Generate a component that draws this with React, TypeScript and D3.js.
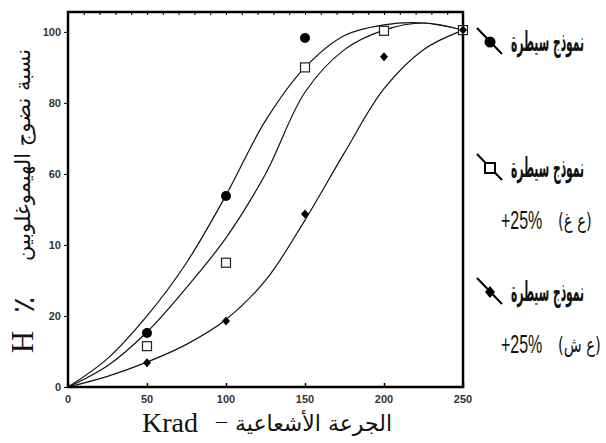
import React, { useEffect, useRef } from 'react';
import * as d3 from 'd3';

// measured points (dose in Krad, % maturation)
const doses = [50, 100, 150, 200, 250];
const controlPts = [15.2, 53.8, 98.3, null, 100.5];
const squarePts = [11.5, 35, 90, 100.3, 100.5];
const diamondPts = [6.8, 18.6, 48.7, 93, 100.5];

// fitted curves
const curveX = [0, 25, 50, 75, 100, 125, 150, 175, 200, 225, 250];
const curveControl = [0, 8, 20, 35, 54, 75, 90, 99, 102, 102.5, 100.5];
const curveSquare = [0, 6, 15.5, 28, 42, 60, 83, 95, 100.5, 102.5, 100.5];
const curveDiamond = [0, 3, 7, 12, 19, 30, 47, 66, 84, 95, 100.5];

const xTicks = [0, 50, 100, 150, 200, 250];
const yTicks = [0, 20, 40, 60, 80, 100];
const yTickLabels = ['0', '20', '10', '60', '80', '100'];

const legendName = 'نموذج سيطرة';
const legendPct = ['', '+25%', '+25%'];
const legendAbbr = ['', '(ع غ)', '(ع ش)'];
const yTitle = 'نسبة نضوج الهيموغلوبين';
const xTitle = 'الجرعة الأشعاعية';

const App = () => {
  const svgRef = useRef<SVGSVGElement>(null);

  useEffect(() => {
    const svg = d3.select(svgRef.current);
    svg.selectAll('*').remove();

    const x = d3.scaleLinear().domain([0, 250]).range([68, 463]);
    const y = d3.scaleLinear().domain([0, 105.6]).range([387, 12]);

    // curves
    const line = d3.line<number>()
      .x((d, i) => x(curveX[i]))
      .y(d => y(d))
      .curve(d3.curveCatmullRom.alpha(0.5));

    [curveControl, curveSquare, curveDiamond].forEach(c => {
      svg.append('path')
        .attr('d', line(c))
        .attr('fill', 'none')
        .attr('stroke', '#111')
        .attr('stroke-width', 1.2);
    });

    // frame
    svg.append('rect')
      .attr('x', x(0)).attr('y', y(105.6))
      .attr('width', x(250) - x(0)).attr('height', y(0) - y(105.6))
      .attr('fill', 'none').attr('stroke', '#000').attr('stroke-width', 2.5);

    // top minor ticks
    svg.append('g')
      .attr('transform', `translate(0,${y(105.6)})`)
      .call(d3.axisBottom(x).tickValues(d3.range(0, 251, 10)).tickSize(3).tickFormat(() => ''))
      .call(g => g.select('.domain').remove());

    // bottom axis
    const xa = svg.append('g')
      .attr('transform', `translate(0,${y(0)})`)
      .call(d3.axisTop(x).tickValues(xTicks).tickSize(4).tickFormat(() => ''));
    xa.select('.domain').remove();
    xa.selectAll('line').attr('stroke-width', 1.5);

    svg.append('g').selectAll('text')
      .data(xTicks)
      .join('text')
      .attr('x', d => x(d))
      .attr('y', y(0) + 16)
      .attr('text-anchor', 'middle')
      .attr('font-family', 'Liberation Sans, Arial, sans-serif')
      .attr('font-size', 11)
      .attr('font-weight', 'bold')
      .attr('fill', '#333')
      .text(d => d);

    // left axis
    const ya = svg.append('g')
      .attr('transform', `translate(${x(0)},0)`)
      .call(d3.axisLeft(y).tickValues(yTicks).tickSize(4).tickFormat(() => ''));
    ya.select('.domain').remove();

    svg.append('g').selectAll('text')
      .data(yTicks)
      .join('text')
      .attr('x', x(0) - 7)
      .attr('y', d => y(d) + 4)
      .attr('text-anchor', 'end')
      .attr('font-family', 'Liberation Sans, Arial, sans-serif')
      .attr('font-size', 11)
      .attr('font-weight', 'bold')
      .attr('fill', '#333')
      .text((d, i) => yTickLabels[i]);

    // markers
    const diamond = (cx: number, cy: number, w: number, h: number) =>
      `M${cx},${cy - h}L${cx + w},${cy}L${cx},${cy + h}L${cx - w},${cy}Z`;

    doses.forEach((dv, i) => {
      if (controlPts[i] != null) {
        svg.append('circle')
          .attr('cx', x(dv)).attr('cy', y(controlPts[i] as number))
          .attr('r', 5).attr('fill', '#000');
      }
      svg.append('rect')
        .attr('x', x(dv) - 4.5).attr('y', y(squarePts[i]) - 4.5)
        .attr('width', 9).attr('height', 9)
        .attr('fill', '#fff').attr('stroke', '#222').attr('stroke-width', 1.2);
      svg.append('path')
        .attr('d', diamond(x(dv), y(diamondPts[i]), 4, 4.5))
        .attr('fill', '#000');
    });

    // legend
    const legY = [42, 168, 292];
    legY.forEach((ly, i) => {
      const g = svg.append('g').attr('transform', `translate(490,${ly})`);
      g.append('line')
        .attr('x1', -13).attr('y1', -14).attr('x2', 12).attr('y2', 12)
        .attr('stroke', '#000').attr('stroke-width', 2);
      if (i === 0) g.append('circle').attr('r', 5.5).attr('fill', '#000');
      if (i === 1) g.append('rect').attr('x', -5).attr('y', -5).attr('width', 10).attr('height', 10)
        .attr('fill', '#fff').attr('stroke', '#000').attr('stroke-width', 2);
      if (i === 2) g.append('path').attr('d', diamond(0, 0, 5, 6)).attr('fill', '#000');

      svg.append('text')
        .attr('transform', `translate(511,${ly + 9}) scale(0.44,1)`)
        .attr('font-family', 'DejaVu Sans Condensed, DejaVu Sans, sans-serif')
        .attr('font-weight', 'bold')
        .attr('font-size', 27)
        .attr('fill', '#111')
        .text(legendName);

      if (legendPct[i]) {
        svg.append('text')
          .attr('transform', `translate(501,${ly + 61}) scale(0.64,1)`)
          .attr('font-family', 'Liberation Sans, Arial, sans-serif')
          .attr('font-size', 25)
          .attr('fill', '#111')
          .text(legendPct[i]);
        svg.append('text')
          .attr('transform', `translate(558,${ly + 60}) scale(0.7,1)`)
          .attr('font-family', 'DejaVu Sans, sans-serif')
          .attr('font-size', 21)
          .attr('fill', '#111')
          .text(legendAbbr[i]);
      }
    });

    // y title
    svg.append('text')
      .attr('transform', `translate(30,155) rotate(-90)`)
      .attr('text-anchor', 'middle')
      .attr('font-family', 'DejaVu Sans, sans-serif')
      .attr('font-size', 21)
      .attr('fill', '#111')
      .text(yTitle);
    svg.append('text')
      .attr('transform', `translate(34,305) rotate(-90)`)
      .attr('text-anchor', 'middle')
      .attr('font-family', 'DejaVu Sans, sans-serif')
      .attr('font-size', 30)
      .attr('fill', '#111')
      .text('٪');
    svg.append('text')
      .attr('transform', `translate(33,342) rotate(-90)`)
      .attr('text-anchor', 'middle')
      .attr('font-family', 'Liberation Serif, Times New Roman, serif')
      .attr('font-size', 31)
      .attr('fill', '#111')
      .text('H');

    // x title
    svg.append('text')
      .attr('x', 142).attr('y', 432)
      .attr('font-family', 'Liberation Serif, Times New Roman, serif')
      .attr('font-size', 28)
      .attr('fill', '#111')
      .text('Krad');
    svg.append('text')
      .attr('x', 216).attr('y', 428)
      .attr('font-family', 'Liberation Serif, serif')
      .attr('font-size', 22)
      .attr('fill', '#111')
      .text('–');
    svg.append('text')
      .attr('x', 392).attr('y', 431)
      .attr('text-anchor', 'end')
      .attr('font-family', 'DejaVu Sans, sans-serif')
      .attr('font-size', 22)
      .attr('fill', '#111')
      .text(xTitle);
  }, []);

  return (
    <svg ref={svgRef} width={606} height={443}
      style={{ position: 'absolute', left: 0, top: 0, background: '#fff' }} />
  );
};

export default App;
